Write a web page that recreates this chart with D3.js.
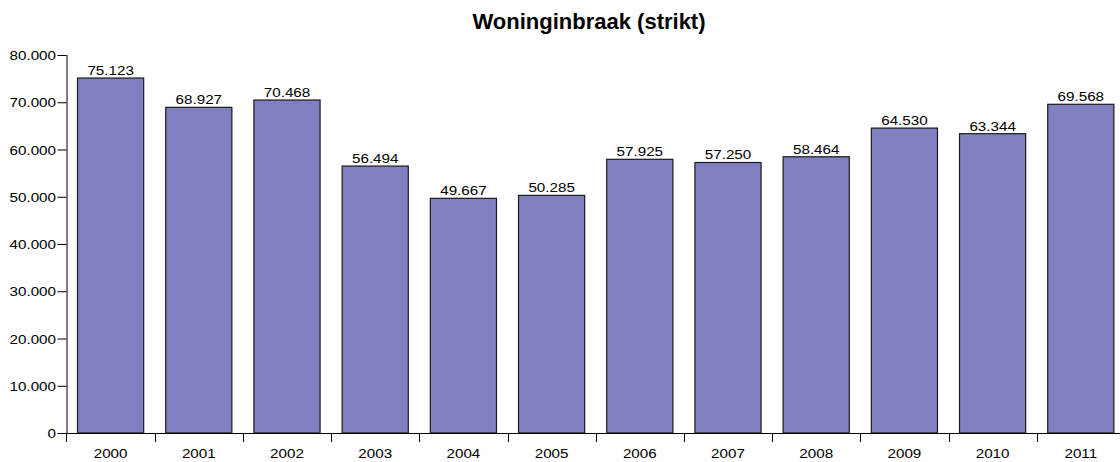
<!DOCTYPE html>
<html>
<head>
<meta charset="utf-8">
<script src="https://cdn.jsdelivr.net/npm/d3@7"></script>
<style>
  body { margin: 0; background: #fff; }
  text { font-family: "Liberation Sans", Arial, sans-serif; fill: #000; }
</style>
</head>
<body>
<div id="chart"></div>
<script>
// data
var years = ["2000","2001","2002","2003","2004","2005","2006","2007","2008","2009","2010","2011"];
var values = [75123, 68927, 70468, 56494, 49667, 50285, 57925, 57250, 58464, 64530, 63344, 69568];
var yTicks = [0, 10000, 20000, 30000, 40000, 50000, 60000, 70000, 80000];
var title = "Woninginbraak (strikt)";

var width = 1120, height = 462;
var plotLeft = 66.5, plotTop = 55, plotBottom = 433, step = 88.2;
var stretch = 1.17; // the labels in the original are drawn a bit wide

var nl = d3.formatLocale({decimal: ",", thousands: ".", grouping: [3], currency: ["€", ""]});
var fmt = nl.format(",d");

var svg = d3.select("#chart").append("svg")
	.attr("width", width)
	.attr("height", height);

var x = d3.scaleBand()
	.domain(years)
	.range([plotLeft, plotLeft + step * years.length])
	.paddingInner(0.25)
	.paddingOuter(0.125);

var y = d3.scaleLinear()
	.domain([0, 80000])
	.range([plotBottom, plotTop]);

// title
svg.append("text")
	.attr("x", 589)
	.attr("y", 29)
	.attr("text-anchor", "middle")
	.style("font-size", "22px")
	.style("font-weight", "bold")
	.text(title);

// bars
svg.append("g").selectAll("rect")
	.data(values)
	.enter().append("rect")
	.attr("x", function(d, i) { return x(years[i]); })
	.attr("y", function(d) { return y(d); })
	.attr("width", x.bandwidth())
	.attr("height", function(d) { return plotBottom - y(d); })
	.attr("fill", "#8080c0")
	.attr("stroke", "#1a1a1a")
	.attr("stroke-width", 1.2);

// value labels
svg.append("g").selectAll("text")
	.data(values)
	.enter().append("text")
	.attr("text-anchor", "middle")
	.attr("transform", function(d, i) {
		return "translate(" + (x(years[i]) + x.bandwidth() / 2) + "," + (y(d) - 3) + ") scale(" + stretch + ",1)";
	})
	.style("font-size", "13px")
	.text(function(d) { return fmt(d); });

// y axis
var yAxis = svg.append("g")
	.attr("transform", "translate(" + plotLeft + ",0)")
	.call(d3.axisLeft(y).tickValues(yTicks).tickSize(9).tickSizeOuter(0).tickFormat(fmt));
yAxis.select(".domain").attr("stroke", "#000").attr("d", "M0.5," + plotTop + "V" + plotBottom);
yAxis.selectAll(".tick line").attr("stroke", "#000");
yAxis.selectAll(".tick text")
	.attr("x", null).attr("dy", null)
	.attr("y", 4.5)
	.attr("transform", "translate(-10.5,0) scale(" + stretch + ",1)")
	.style("font-size", "13px")
	.style("font-family", "'Liberation Sans', Arial, sans-serif")
	.attr("fill", "#000");

// x axis
var xAxis = svg.append("g")
	.attr("transform", "translate(0," + plotBottom + ")")
	.call(d3.axisBottom(x).tickSize(0).tickSizeOuter(0));
xAxis.select(".domain").attr("stroke", "#000").attr("d", "M" + plotLeft + ",0.5H" + width);
xAxis.selectAll(".tick text")
	.attr("dy", null)
	.attr("y", 25)
	.attr("transform", "scale(" + stretch + ",1)")
	.style("font-size", "13px")
	.style("font-family", "'Liberation Sans', Arial, sans-serif")
	.attr("fill", "#000");

// separators between the categories
var edge = (x.step() - x.bandwidth()) / 2;
xAxis.append("g").selectAll("line")
	.data(years)
	.enter().append("line")
	.attr("x1", function(d) { return Math.round(x(d) - edge) + 0.5; })
	.attr("x2", function(d) { return Math.round(x(d) - edge) + 0.5; })
	.attr("y1", 0)
	.attr("y2", 9)
	.attr("stroke", "#000");
</script>
</body>
</html>
